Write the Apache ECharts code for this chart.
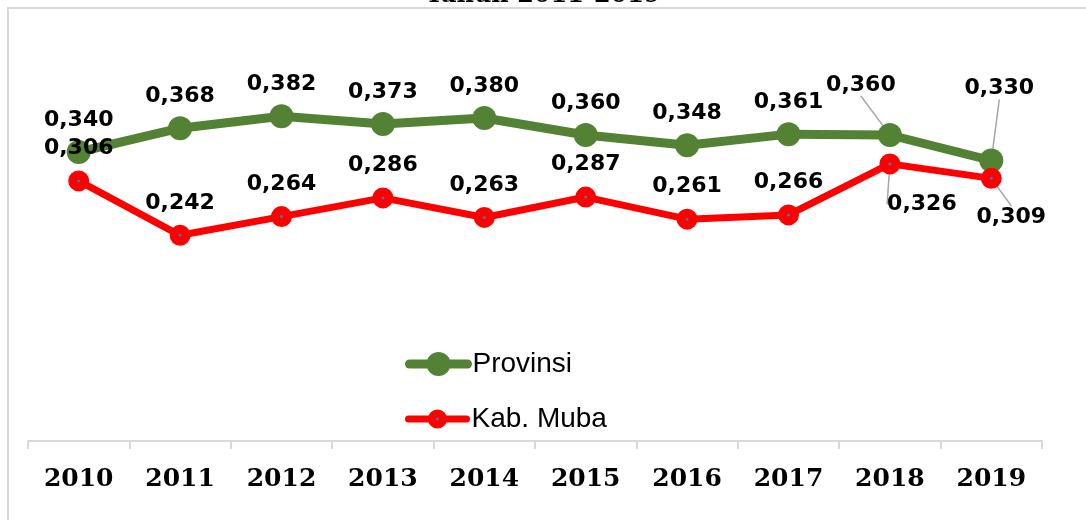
<!DOCTYPE html>
<html>
<head>
<meta charset="utf-8">
<script src="https://cdn.jsdelivr.net/npm/echarts@6/dist/echarts.min.js"></script>
<style>
  html, body { margin: 0; padding: 0; background: #fff; }
  #chart { width: 1086px; height: 520px; }
</style>
</head>
<body>
<div id="chart"></div>
<script>
  // data
  let years = ['2010', '2011', '2012', '2013', '2014', '2015', '2016', '2017', '2018', '2019'];
  let provinsi = [0.340, 0.368, 0.382, 0.373, 0.380, 0.360, 0.348, 0.361, 0.360, 0.330];
  let muba = [0.306, 0.242, 0.264, 0.286, 0.263, 0.287, 0.261, 0.266, 0.326, 0.309];

  let myChart = echarts.init(document.getElementById('chart'));

  let fmt = function (p) {
    return p.value.toFixed(3).replace('.', ',');
  };

  // labels that are pulled away from their point (seriesIndex-dataIndex)
  let moved = {
    '0-8': { dx: -29, dy: -18 },
    '0-9': { dx: 8, dy: -40 },
    '1-8': { dx: 32, dy: 73 },
    '1-9': { dx: 20, dy: 71 }
  };

  let withLines = function (arr, s) {
    return arr.map(function (v, i) {
      if (moved[s + '-' + i]) {
        return { value: v, labelLine: { show: true } };
      }
      return v;
    });
  };

  let legendText = {
    fontFamily: 'Liberation Sans',
    fontSize: 28,
    color: '#000'
  };

  let option = {
    animation: false,
    title: {
      text: 'Tahun 2011-2019',
      left: 'center',
      top: -21,
      textStyle: {
        fontFamily: 'DejaVu Serif',
        fontWeight: 'bold',
        fontSize: 24,
        color: '#000'
      }
    },
    graphic: [{
      type: 'polyline',
      shape: { points: [[8, 520], [8, 8], [1086, 8]] },
      style: { stroke: '#d9d9d9', lineWidth: 2, fill: null },
      silent: true
    }],
    grid: {
      left: 28,
      right: 44,
      top: 16,
      bottom: 79
    },
    legend: [{
      orient: 'vertical',
      left: 405,
      top: 350,
      padding: 0,
      itemWidth: 58,
      itemHeight: 30,
      textStyle: legendText,
      data: [{
        name: 'Provinsi',
        lineStyle: { width: 9, cap: 'round' }
      }]
    }, {
      orient: 'vertical',
      left: 405,
      top: 405,
      padding: 0,
      itemWidth: 58,
      itemHeight: 14,
      textStyle: legendText,
      data: [{
        name: 'Kab. Muba',
        lineStyle: { width: 7, cap: 'round' },
        itemStyle: { color: '#4472c4', borderColor: '#ff0000', borderWidth: 8 }
      }]
    }],
    xAxis: {
      type: 'category',
      data: years,
      boundaryGap: true,
      axisLine: { lineStyle: { color: '#d9d9d9', width: 2 } },
      axisTick: { show: true, length: 8, lineStyle: { color: '#d9d9d9', width: 2 } },
      axisLabel: {
        margin: 26,
        fontFamily: 'DejaVu Serif',
        fontWeight: 'bold',
        fontSize: 25,
        color: '#000'
      }
    },
    yAxis: {
      type: 'value',
      min: 0,
      max: 0.5,
      show: false,
      splitLine: { show: false }
    },
    labelLayout: function (params) {
      let m = moved[params.seriesIndex + '-' + params.dataIndex];
      if (m) {
        return { dx: m.dx, dy: m.dy };
      }
    },
    series: [{
      name: 'Provinsi',
      type: 'line',
      data: withLines(provinsi, 0),
      symbol: 'circle',
      symbolSize: 24,
      z: 2,
      lineStyle: { color: '#548235', width: 9 },
      itemStyle: { color: '#548235' },
      label: {
        show: true,
        position: 'top',
        distance: 9,
        formatter: fmt,
        fontFamily: 'DejaVu Sans',
        fontWeight: 'bold',
        fontSize: 22,
        color: '#000'
      },
      labelLine: {
        show: false,
        lineStyle: { color: '#a6a6a6', width: 1.5 }
      }
    }, {
      name: 'Kab. Muba',
      type: 'line',
      data: withLines(muba, 1),
      symbol: 'circle',
      symbolSize: 12,
      z: 3,
      lineStyle: { color: '#ff0000', width: 7 },
      itemStyle: { color: '#4472c4', borderColor: '#ff0000', borderWidth: 9 },
      label: {
        show: true,
        position: 'top',
        distance: 11,
        formatter: fmt,
        fontFamily: 'DejaVu Sans',
        fontWeight: 'bold',
        fontSize: 22,
        color: '#000'
      },
      labelLine: {
        show: false,
        lineStyle: { color: '#a6a6a6', width: 1.5 }
      }
    }]
  };

  myChart.setOption(option);
</script>
</body>
</html>
